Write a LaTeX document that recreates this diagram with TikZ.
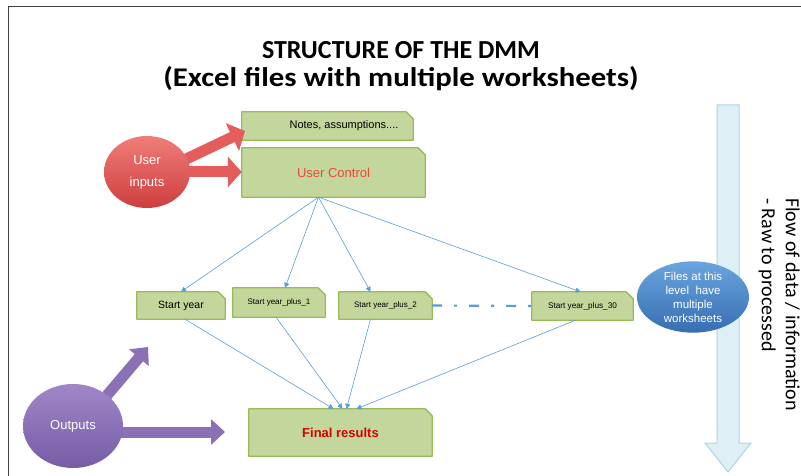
\documentclass[tikz,border=0pt]{standalone}
\usepackage{fontspec}
\setmainfont{Carlito}
\newfontfamily\arialfont{Liberation Sans}
\usetikzlibrary{shapes.geometric,arrows.meta,backgrounds}

\definecolor{boxfill}{RGB}{195,214,155}
\definecolor{boxline}{RGB}{155,187,89}
\definecolor{linkblue}{RGB}{91,155,213}
\definecolor{ctrlred}{RGB}{238,72,52}
\definecolor{flowfill}{RGB}{222,240,246}
\definecolor{flowline}{RGB}{172,212,230}

\tikzset{
  titletext/.style={font=\fontsize{26}{30}\selectfont\bfseries},
  boxdraw/.style={fill=boxfill, draw=boxline, line width=1.3pt, line join=round},
  greenbox/.style={inner sep=0pt, font=\arialfont\fontsize{#1}{#1}\selectfont},
  ball/.style={ellipse, inner sep=0pt, align=center, text=white},
  link/.style={linkblue, line width=0.6pt, -{Triangle[length=5pt,width=5pt]}},
  dashlink/.style={linkblue, line width=2.2pt, dash pattern=on 10pt off 12pt on 3pt off 12pt},
  redarrow/.style={line width=11pt, color={rgb,255:red,228;green,92;blue,92}, -{Triangle[length=14pt,width=30pt]}},
  purplearrow/.style={line width=11pt, color={rgb,255:red,140;green,112;blue,182}, -{Triangle[length=14pt,width=25pt]}},
  flowarrow/.style={fill=flowfill, draw=flowline, line width=1pt}
}
% green sheet with the top right corner cut off
\newcommand{\cutbox}[1]{\draw[boxdraw] (#1.south west) -- (#1.north west) -- ([xshift=-7pt]#1.north east) -- ([yshift=-7pt]#1.north east) -- (#1.south east) -- cycle;}

\begin{document}
\begin{tikzpicture}[x=1pt, y=-1pt]
  \useasboundingbox (0,0) rectangle (801,476);

  % frame
  \draw[line width=1.5pt, black!75] (8.5,476) -- (8.5,6.5) -- (801,6.5);

  % title
  \node[titletext] (title) at (401,50) {STRUCTURE OF THE DMM};
  \node[titletext, font=\fontsize{27}{31}\selectfont\bfseries] (subtitle) at (401,79) {\scalebox{1.14}[1]{(Excel files with multiple worksheets)}};

  % flow of data arrow
  \draw[flowarrow] (717,105) -- (739,105) -- (739,443) -- (751,443) -- (728,472) -- (705,443) -- (717,443) -- cycle;
  \node[rotate=-90, anchor=north west, inner sep=0pt, align=left, font=\fontsize{20}{24}\selectfont] (flow) at (800,198) {Flow of data / information\\- Raw to processed};

  % ellipses
  \node[ball, top color={rgb,255:red,240;green,125;blue,120}, bottom color={rgb,255:red,205;green,62;blue,62}, minimum width=86pt, minimum height=72pt, font=\arialfont\fontsize{13}{22}\selectfont] (user) at (147,172) {User\\inputs};
  \node[ball, top color={rgb,255:red,160;green,135;blue,200}, bottom color={rgb,255:red,118;green,92;blue,165}, minimum width=100pt, minimum height=84pt, font=\arialfont\fontsize{13}{15}\selectfont] (out) at (73,426) {Outputs};
  \node[ball, top color={rgb,255:red,105;green,165;blue,222}, bottom color={rgb,255:red,55;green,110;blue,178}, minimum width=112pt, minimum height=70pt, font=\arialfont\fontsize{11.5}{14}\selectfont] (files) at (693,297) {Files at this\\level\ \ have\\multiple\\worksheets};

  % sheets
  \node[greenbox=11, minimum width=171pt, minimum height=28pt] (notes) at (327.5,126) {\hspace*{33pt}Notes, assumptions....};
  \node[greenbox=13, minimum width=183pt, minimum height=49pt, text=ctrlred] (control) at (333.5,172.5) {User Control};
  \node[greenbox=10.5, minimum width=88pt, minimum height=27pt] (y0) at (181,305.5) {Start year};
  \node[greenbox=8, minimum width=92pt, minimum height=29pt] (y1) at (279,302.5) {Start year\_plus\_1};
  \node[greenbox=8, minimum width=93pt, minimum height=27pt] (y2) at (385.5,305.5) {Start year\_plus\_2};
  \node[greenbox=8.2, minimum width=101pt, minimum height=28pt] (y30) at (582.5,306) {Start year\_plus\_30};
  \node[greenbox=13, minimum width=183pt, minimum height=47pt, text=red!85!black, font=\arialfont\bfseries\fontsize{13}{15}\selectfont] (final) at (340.5,432.5) {Final results};

  \begin{scope}[on background layer]
    \cutbox{notes}
    \cutbox{control}
    \cutbox{y0}
    \cutbox{y1}
    \cutbox{y2}
    \cutbox{y30}
    \cutbox{final}

    % block arrows
    \coordinate (notestip) at (245,131);
    \draw[redarrow] ([xshift=12pt]user.center) -- (notestip);
    \draw[redarrow] (user.center) -- (user.center -| control.west);
    \coordinate (outtip) at (225,432);
    \coordinate (outtip2) at (148,347);
    \draw[purplearrow] (out.center |- outtip) -- (outtip);
    \draw[purplearrow] ([xshift=8pt]out.center) -- (outtip2);
  \end{scope}

  % links
  \coordinate (hub) at ([xshift=-15pt]control.south);
  \draw[link] (hub) -- (y0.north);
  \draw[link] (hub) -- ([xshift=6pt]y1.north);
  \draw[link] (hub) -- ([xshift=-15pt]y2.north);
  \draw[link] (hub) -- ([xshift=-2pt]y30.north);
  \draw[dashlink] (y2.east) -- (y30.west);
  \draw[link] ([xshift=4pt]y0.south) -- ([xshift=-7pt]final.north);
  \draw[link] ([xshift=-3pt]y1.south) -- ([xshift=2pt]final.north);
  \draw[link] ([xshift=-15pt]y2.south) -- ([xshift=6pt]final.north);
  \draw[link] ([xshift=-7pt]y30.south) -- ([xshift=16pt]final.north);
\end{tikzpicture}
\end{document}
